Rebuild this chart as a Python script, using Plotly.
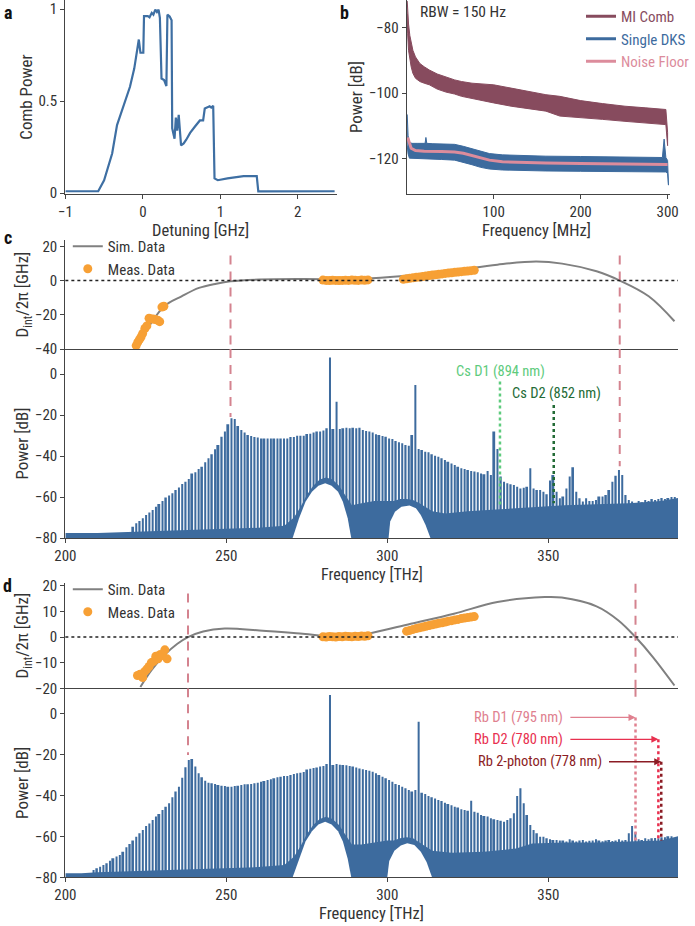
"""Comb spectra figure: MI/DKS, Dint and optical spectra (Cs / Rb)."""
import plotly.graph_objects as go

FONT = "Roboto Condensed, Roboto, sans-serif"
INK = "#333333"
BLUE = "#3d6b9e"
MAROON = "#874b5e"
PINK = "#dc8c9c"
ORANGE = "#f7a035"
GRAY = "#808080"
DASH_PINK = "#d4838f"

# ---------------- panel a : comb power vs detuning
det_ghz = [-1.0, -0.576, -0.50, -0.459, -0.396, -0.333, -0.25, -0.166, -0.111,
           -0.082, -0.052, -0.031, 0.006, 0.015, 0.065, 0.086, 0.115, 0.136,
           0.161, 0.182, 0.203, 0.22, 0.241, 0.274, 0.304, 0.317, 0.346, 0.371,
           0.379, 0.409, 0.426, 0.443, 0.463, 0.493, 0.527, 0.56, 0.61, 0.673,
           0.736, 0.778, 0.799, 0.862, 0.883, 0.908, 0.925, 0.967, 1.092, 1.30,
           1.47, 1.49, 1.72, 2.475]
comb_power = [0.01, 0.01, 0.07, 0.125, 0.215, 0.37, 0.47, 0.578, 0.677, 0.75,
              0.835, 0.763, 0.763, 0.962, 0.962, 0.956, 0.98, 0.97, 0.998,
              0.985, 0.998, 0.953, 0.623, 0.615, 0.582, 0.97, 0.96, 0.94, 0.352,
              0.296, 0.411, 0.34, 0.425, 0.259, 0.27, 0.29, 0.327, 0.362, 0.395,
              0.395, 0.46, 0.472, 0.465, 0.475, 0.08, 0.07, 0.08, 0.092, 0.092,
              0.009, 0.01, 0.01]

# ---------------- panel b : RF noise
mi_f = [0.5, 1, 2, 3.5, 5, 7, 10, 15, 20, 26, 35, 45, 55, 63, 75, 90, 100, 120,
        140, 160, 176, 200, 225, 251, 275, 298, 300]
mi_hi = [-72, -75, -79, -82.5, -85, -87, -89, -91, -92, -93, -94.2, -95.2, -96,
         -96.5, -97, -97.3, -97.5, -98.5, -99.5, -100.5, -101, -102.3, -103.2,
         -104, -104.5, -105, -112]
mi_lo = [-76, -82, -87, -90, -92, -94, -95.5, -96.5, -97, -97.5, -98.8, -99.7,
         -100.3, -101, -101.7, -102.5, -103, -104, -104.8, -105.5, -107, -107.4,
         -108, -108.6, -109.2, -109.6, -116]
dks_f = [0.5, 1.5, 3, 6, 12, 21, 22, 23, 30, 40, 55, 65, 75, 85, 95, 110, 130,
         160, 200, 250, 294, 296, 298, 300, 301]
dks_hi = [-106.5, -113, -115, -115.3, -115.3, -115.3, -113.5, -115.3, -115.4,
          -115.5, -115.6, -116.2, -117, -117.8, -118.4, -118.8, -119, -119.2,
          -119.3, -119.5, -119.6, -114, -119.6, -120.5, -127]
dks_lo = [-116, -118.5, -119.8, -120, -120, -120, -120, -120, -120.1, -120.2,
          -120.4, -121, -121.8, -122.6, -123.1, -123.4, -123.6, -123.7, -123.8,
          -124, -124, -124, -124, -124.5, -128]
nf_f = [1, 3, 5, 10, 20, 40, 55, 65, 75, 85, 95, 110, 130, 160, 200, 250, 300]
nf_db = [-113.5, -115.5, -116.8, -117.5, -117.7, -117.8, -117.9, -118.3, -119,
         -119.8, -120.4, -120.9, -121.1, -121.3, -121.4, -121.6, -121.7]

# ---------------- comb grid
pump_thz = 282.2
fsr_thz = 1.02

# ---------------- panel c
c_sim_f = [222.7, 226.0, 230.7, 236.1, 241.5, 246.9, 251.3, 260.3, 273.7, 287.1,
           295.2, 307.3, 320.7, 334.2, 346.2, 354.3, 365.0, 372.2, 381.2, 389.2]
c_sim_d = [-36.5, -26.7, -15.0, -9.2, -4.3, -1.8, -0.4, 0.6, 0.9, 0.8, 1.3, 3.1,
           6.0, 9.3, 11.1, 9.9, 5.4, 0.0, -9.2, -23.8]
c_meas_f = [222.0, 222.5, 223.0, 223.5, 224.0, 224.7, 225.3, 226.0, 226.6, 227.3,
            228.0, 228.7, 229.3, 230.0, 230.6,
            280, 281, 282, 283, 284, 285, 286, 287, 288, 289, 290, 291, 292, 293,
            294,
            305, 306, 307, 308, 309, 310, 311, 312, 313, 314, 315, 316, 317, 318,
            319, 320, 321, 322, 323, 324, 325, 326, 327]
c_meas_d = [-38, -36, -34.5, -33, -31, -28, -26.5, -22, -22.5, -22.5, -22.8,
            -23.2, -24, -15.5, -15,
            0.3, 0.1, 0.0, 0.2, 0.1, 0.0, 0.1, 0.2, 0.1, 0.3, 0.2, 0.1, 0.3, 0.2,
            0.4,
            0.7, 1.0, 1.3, 1.6, 1.9, 2.1, 2.4, 2.7, 2.9, 3.2, 3.4, 3.7, 3.9, 4.2,
            4.4, 4.6, 4.8, 5.0, 5.2, 5.4, 5.6, 5.8, 6.0]
c_k_first = -60
c_peaks = [
    -74.5, -72.8, -71.7, -70.4, -68.8, -67.5, -66.3, -64.7, -63.4, -61.9,
    -60.3, -59.3, -58.2, -56.6, -55.4, -53.7, -52.5, -51.2, -48.5, -47.9,
    -46.3, -45.2, -43.1, -41.1, -39.2, -36.7, -34.6, -30.6, -28.1, -24.5,
    -21.6, -21.9, -25.4, -27.3, -28.5, -29.8, -30.2, -30.7, -31.0, -31.4,
    -31.4, -31.4, -31.4, -31.4, -31.4, -31.4, -31.4, -31.4, -30.7, -30.7,
    -30.1, -30.1, -30.1, -29.3, -29.1, -28.5, -28.1, -28.1, -27.5, -26.5,
    8.0, -26.8, -13.5, -26.8, -26.5, -26.2, -26.5, -26.2, -26.5, -26.2,
    -27.3, -27.8, -28.1, -28.5, -29.4, -29.8, -30.2, -30.6, -31.4, -31.7,
    -32.7, -33.3, -33.8, -34.6, -35.0, -29.8, -5.4, -36.6, -37.1, -37.9,
    -38.2, -39.2, -39.9, -40.3, -41.1, -42.0, -42.8, -43.6, -44.4, -45.2,
    -46.0, -46.3, -46.8, -47.3, -47.6, -47.9, -48.5, -48.9, -47.3, -49.3,
    -28.1, -36.6, -50.0, -52.5, -53.3, -53.8, -54.1, -55.0, -55.8, -55.5,
    -55.0, -46.0, -55.8, -56.6, -56.6, -57.4, -58.7, -52.0, -49.3, -57.4,
    -60.6, -59.8, -55.8, -50.0, -45.5, -57.4, -60.6, -62.2, -60.6, -62.0,
    -62.0, -61.4, -59.8, -59.8, -59.0, -56.6, -52.5, -49.6, -46.8, -49.3,
    -59.0, -61.4, -62.2, -63.0, -62.0, -62.5, -61.5, -62.0, -61.0, -61.5,
    -61.0, -60.5, -61.0, -60.5, -60.0, -60.0]
c_floor_f = [200, 210, 220, 230, 240, 250, 260, 268, 271, 273, 275, 277, 279,
             281, 283, 285, 287, 289, 292, 296, 300, 302, 304, 306, 308, 310,
             312, 314, 318, 325, 335, 345, 355, 365, 375, 385, 390.3]
c_floor_db = [-77.5, -77.5, -77, -76.5, -76, -75.5, -75, -74, -70, -65, -59, -54.5,
              -51.5, -50.5, -51.5, -54.5, -59, -64, -63, -62, -62, -62, -61, -61,
              -61.5, -63, -65, -67, -68, -67, -66, -65, -64, -63.5, -63, -62,
              -60.5]
c_arch1_f = [270.6, 272.6, 274.6, 276.6, 278.6, 280.7, 282.7, 284.7, 286.2,
             287.7, 288.8]
c_arch1_db = [-80, -70.4, -62.3, -57.4, -54.5, -53.3, -54.5, -57.4, -62.3, -70.4,
              -80]
c_arch2_f = [300.4, 300.9, 302.4, 304.4, 306.9, 308.9, 310.4, 311.9, 313.4]
c_arch2_db = [-80, -72, -67.2, -64.7, -64.2, -65.5, -68.8, -73.6, -80]
c_zero_thz = [251.3, 372.2]
c_zero_top_d = 14.6
c_zero_peak_db = [-21.0, -45.0]
cs_names = ["Cs D1 (894 nm)", "Cs D2 (852 nm)"]
cs_colors = ["#5ecb7d", "#236b36"]
cs_thz = [335.0, 351.7]
cs_top_db = [-3.7, -15.1]
cs_bottom_db = [-65.0, -63.0]
cs_label_thz = [335.3, 352.6]
cs_label_db = [1.1, -9.4]

# ---------------- panel d
d_sim_f = [223.3, 226.7, 230.7, 234.8, 238.1, 242.8, 249.5, 260.3, 273.7, 285.8,
           293.9, 307.3, 320.7, 334.2, 348.9, 354.2, 365.0, 371.8, 377.1, 382.5,
           389.2]
d_sim_d = [-19.5, -13.0, -7.1, -2.6, 0.0, 2.2, 3.3, 2.6, 1.3, 0.0, 1.3, 5.2, 9.1,
           13.7, 15.6, 15.4, 12.0, 6.5, 0.0, -7.8, -18.9]
d_meas_f = [222.4, 223.2, 224.0, 224.6, 225.3, 226.0, 226.7, 227.4, 228.1, 228.8,
            229.5, 230.2, 230.9, 231.6,
            280, 281, 282, 283, 284, 285, 286, 287, 288, 289, 290, 291, 292, 293,
            294,
            306, 307, 308, 309, 310, 311, 312, 313, 314, 315, 316, 317, 318, 319,
            320, 321, 322, 323, 324, 325, 326, 327]
d_meas_d = [-15, -14.5, -15.8, -13.5, -12.5, -11.5, -10, -9.5, -7.5, -8.5, -6.8,
            -7.2, -5, -8.5,
            0.1, 0.0, 0.2, 0.1, 0.0, 0.2, 0.1, 0.3, 0.2, 0.1, 0.3, 0.2, 0.4, 0.3,
            0.5,
            2.3, 2.6, 3.0, 3.3, 3.6, 3.9, 4.2, 4.5, 4.8, 5.1, 5.4, 5.6, 5.9, 6.2,
            6.4, 6.7, 6.9, 7.2, 7.4, 7.6, 7.8, 8.0]
d_k_first = -72
d_peaks = [
    -76.4, -75.6, -74.8, -74.0, -73.2, -71.9, -70.7, -69.9, -69.1, -67.5,
    -65.4, -63.8, -62.1, -60.2, -58.5, -56.9, -55.0, -53.7, -52.0, -50.4,
    -49.1, -47.2, -45.6, -43.9, -41.0, -38.2, -35.8, -31.4, -26.3, -22.8,
    -22.3, -26.0, -29.3, -31.2, -32.9, -33.9, -34.1, -34.5, -35.0, -35.3,
    -35.5, -35.8, -35.8, -35.5, -35.3, -35.0, -34.6, -34.6, -34.5, -34.1,
    -33.9, -33.4, -33.0, -32.5, -32.2, -31.7, -31.2, -30.9, -30.6, -30.6,
    -30.1, -29.6, -29.3, -29.0, -28.6, -27.4, -27.0, -26.7, -26.4, -26.0,
    -25.7, -24.7, 8.9, -25.2, -24.7, -25.1, -25.2, -25.4, -25.7, -26.0,
    -26.4, -26.9, -27.3, -27.7, -28.0, -28.5, -29.3, -30.1, -30.9, -31.7,
    -32.5, -33.4, -34.5, -35.0, -35.8, -36.6, -37.4, -38.2, -37.4, -4.1,
    -38.7, -39.4, -40.3, -41.0, -41.5, -42.3, -42.8, -43.6, -44.3, -44.8,
    -45.6, -46.0, -46.8, -47.2, -47.5, -42.6, -48.0, -48.5, -49.6, -50.1,
    -50.4, -51.2, -51.7, -52.0, -52.4, -52.9, -52.0, -51.2, -48.8, -40.3,
    -36.6, -43.9, -49.6, -54.5, -56.9, -58.5, -60.2, -60.2, -61.0, -61.5,
    -61.8, -61.8, -62.0, -62.0, -62.5, -61.5, -62.0, -62.5, -62.0, -61.8,
    -62.5, -62.2, -62.0, -61.5, -62.0, -62.4, -62.0, -61.8, -62.3, -62.0,
    -61.5, -62.0, -61.8, -58.5, -55.0, -58.0, -61.5, -61.8, -61.0, -61.5,
    -61.0, -60.8, -61.0, -60.5, -60.5, -60.0, -60.0]
d_floor_f = [200, 205, 210, 220, 230, 240, 250, 260, 268, 271, 273, 275, 277,
             279, 281, 283, 285, 287, 289, 292, 296, 300, 302, 304, 306, 308, 310,
             312, 314, 320, 330, 340, 345, 355, 365, 375, 385, 390.3]
d_floor_db = [-78, -78, -77.5, -77, -76.5, -76, -75.5, -75, -74, -70, -65, -59,
              -54.5, -51.5, -50.5, -51.5, -54.5, -59, -64, -64, -63, -62, -62,
              -61, -60.5, -61, -63, -65, -67, -68, -67.5, -66, -63.5, -63, -63,
              -62.5, -62, -60]
d_arch1_f = [270.6, 272.6, 274.6, 276.6, 278.6, 280.7, 282.7, 284.7, 286.2,
             287.7, 288.8]
d_arch1_db = [-80, -71, -62.5, -57.5, -54.3, -52.9, -54.3, -57.5, -62.5, -71, -80]
d_arch2_f = [300.0, 300.6, 302.2, 304.2, 306.2, 308.4, 310.4, 312.2, 313.9]
d_arch2_db = [-80, -72, -67, -64.5, -63.4, -64.2, -67.5, -72.5, -80]
d_zero_thz = [238.1, 377.1]
d_zero_top_d = [17.0, 20.8]
d_zero_peak_db = [-20.3, 8.1]
rb_names = ["Rb D1 (795 nm)", "Rb D2 (780 nm)", "Rb 2-photon (778 nm)"]
rb_colors = ["#e0808f", "#e8304f", "#8b1c24"]
rb_thz = [377.1, 384.2, 385.1]
rb_db = [-2.0, -12.7, -23.6]
rb_bottom_db = [-62.0, -62.0, -62.0]
rb_text_end_thz = [355.1, 355.1, 367.3]
rb_tail_thz = [356.4, 356.4, 368.4]


def comb_freqs(k_first, peaks):
    return [pump_thz + fsr_thz * k for k in range(k_first, k_first + len(peaks))]


def segments(xs, y0s, y1s):
    x, y = [], []
    for xx, a, b in zip(xs, y0s, y1s):
        x += [xx, xx, None]
        y += [a, b, None]
    return x, y


fig = go.Figure()

# panel a
fig.add_trace(go.Scatter(x=det_ghz, y=comb_power, mode="lines",
                         line=dict(color="#3e6fa3", width=2.2),
                         showlegend=False, xaxis="x", yaxis="y"))

# panel b
fig.add_trace(go.Scatter(x=mi_f + mi_f[::-1], y=mi_hi + mi_lo[::-1],
                         fill="toself", fillcolor=MAROON, mode="lines",
                         line=dict(color=MAROON, width=1), showlegend=False,
                         xaxis="x2", yaxis="y2"))
fig.add_trace(go.Scatter(x=dks_f + dks_f[::-1], y=dks_hi + dks_lo[::-1],
                         fill="toself", fillcolor=BLUE, mode="lines",
                         line=dict(color=BLUE, width=1), showlegend=False,
                         xaxis="x2", yaxis="y2"))
fig.add_trace(go.Scatter(x=nf_f, y=nf_db, mode="lines",
                         line=dict(color=PINK, width=3), showlegend=False,
                         xaxis="x2", yaxis="y2"))
for name, col in [("MI Comb", MAROON), ("Single DKS", BLUE), ("Noise Floor", PINK)]:
    fig.add_trace(go.Scatter(x=[None], y=[None], mode="lines",
                             line=dict(color=col, width=3),
                             name=f"<span style='color:{col}'>{name}</span>",
                             legend="legend", xaxis="x2", yaxis="y2"))


def spectrum_panel(xa_top, ya_top, xa, ya, sim_f, sim_d, meas_f, meas_d,
                   k_first, peaks, floor_f, floor_db, arches, legend_id):
    # D_int panel
    fig.add_trace(go.Scatter(x=sim_f, y=sim_d, mode="lines", name="Sim. Data",
                             line=dict(color=GRAY, width=2, shape="spline"),
                             legend=legend_id, xaxis=xa_top, yaxis=ya_top))
    fig.add_trace(go.Scatter(x=meas_f, y=meas_d, mode="markers", name="Meas. Data",
                             marker=dict(color=ORANGE, size=9, line=dict(width=0)),
                             legend=legend_id, xaxis=xa_top, yaxis=ya_top))
    # optical spectrum: comb lines, noise floor, empty arches
    fig.add_trace(go.Bar(x=comb_freqs(k_first, peaks), y=[p + 80 for p in peaks],
                         base=-80, width=0.62, marker=dict(color=BLUE, line=dict(width=0)),
                         showlegend=False, xaxis=xa, yaxis=ya))
    fig.add_trace(go.Scatter(x=[floor_f[0]] + floor_f + [floor_f[-1]],
                             y=[-80] + floor_db + [-80], fill="toself",
                             fillcolor=BLUE, mode="lines", line=dict(width=0, color=BLUE),
                             showlegend=False, xaxis=xa, yaxis=ya))
    for af, adb in arches:
        fig.add_trace(go.Scatter(x=af, y=adb, fill="toself", fillcolor="white",
                                 mode="lines", line=dict(width=0, color="white"),
                                 showlegend=False, xaxis=xa, yaxis=ya))


spectrum_panel("x3", "y3", "x4", "y4", c_sim_f, c_sim_d, c_meas_f, c_meas_d,
               c_k_first, c_peaks, c_floor_f, c_floor_db,
               [(c_arch1_f, c_arch1_db), (c_arch2_f, c_arch2_db)], "legend2")
spectrum_panel("x5", "y5", "x6", "y6", d_sim_f, d_sim_d, d_meas_f, d_meas_d,
               d_k_first, d_peaks, d_floor_f, d_floor_db,
               [(d_arch1_f, d_arch1_db), (d_arch2_f, d_arch2_db)], "legend3")

# dashed zero-crossing markers
dash = dict(color=DASH_PINK, width=2, dash="9px,7px")
x, y = segments(c_zero_thz, [c_zero_top_d] * 2, [-40, -40])
fig.add_trace(go.Scatter(x=x, y=y, mode="lines", line=dash, showlegend=False,
                         xaxis="x3", yaxis="y3"))
x, y = segments(c_zero_thz, [12.2, 12.2], c_zero_peak_db)
fig.add_trace(go.Scatter(x=x, y=y, mode="lines", line=dash, showlegend=False,
                         xaxis="x4", yaxis="y4"))
x, y = segments(d_zero_thz, d_zero_top_d, [-20, -20])
fig.add_trace(go.Scatter(x=x, y=y, mode="lines", line=dash, showlegend=False,
                         xaxis="x5", yaxis="y5"))
x, y = segments(d_zero_thz, [12.2, 12.2], d_zero_peak_db)
fig.add_trace(go.Scatter(x=x, y=y, mode="lines", line=dash, showlegend=False,
                         xaxis="x6", yaxis="y6"))

# Cs lines
for i in range(2):
    fig.add_trace(go.Scatter(x=[cs_thz[i]] * 2, y=[cs_top_db[i], cs_bottom_db[i]],
                             mode="lines", line=dict(color=cs_colors[i], width=2.5, dash="dot"),
                             showlegend=False, xaxis="x4", yaxis="y4"))
    fig.add_annotation(x=cs_label_thz[i], y=cs_label_db[i], xref="x4", yref="y4",
                       text=cs_names[i], showarrow=False,
                       font=dict(color=cs_colors[i], size=14.5))

# Rb lines
for i in range(3):
    fig.add_trace(go.Scatter(x=[rb_thz[i]] * 2, y=[rb_db[i], rb_bottom_db[i]],
                             mode="lines", line=dict(color=rb_colors[i], width=2.5, dash="dot"),
                             showlegend=False, xaxis="x6", yaxis="y6"))
    fig.add_annotation(x=rb_text_end_thz[i], y=rb_db[i], xref="x6", yref="y6",
                       text=rb_names[i], showarrow=False, xanchor="right",
                       font=dict(color=rb_colors[i], size=14.5))
    fig.add_annotation(x=rb_thz[i], y=rb_db[i], ax=rb_tail_thz[i], ay=rb_db[i],
                       xref="x6", yref="y6", axref="x6", ayref="y6", text="",
                       showarrow=True, arrowhead=2, arrowsize=1, arrowwidth=1.4,
                       arrowcolor=rb_colors[i])

# zero lines in Dint panels
for xr, yr in [("x3", "y3"), ("x5", "y5")]:
    fig.add_shape(type="line", xref=f"{xr} domain", yref=yr, x0=0, x1=1, y0=0, y1=0,
                  line=dict(color="#222222", width=1.5, dash="dot"))

axis_common = dict(showgrid=False, zeroline=False, showline=True, linecolor="#444444",
                   linewidth=1.3, ticks="outside", ticklen=4, tickwidth=1.2,
                   tickcolor="#444444", tickfont=dict(size=15, color=INK),
                   title_font=dict(size=17, color=INK))

fig.update_layout(
    width=695, height=926, template="none",
    paper_bgcolor="white", plot_bgcolor="white",
    margin=dict(l=0, r=0, t=0, b=0),
    font=dict(family=FONT, color=INK, size=15),
    xaxis=dict(domain=[0.0964, 0.4964], anchor="y", range=[-1, 2.5],
               tickvals=[-1, 0, 1, 2], **axis_common),
    yaxis=dict(domain=[0.7905, 1.0], anchor="x", range=[-0.005, 1.05],
               tickvals=[0, 0.5, 1], title=dict(text="Comb Power", standoff=1),
               **axis_common),
    xaxis2=dict(domain=[0.6, 0.9885], anchor="y2", range=[0, 303],
                tickvals=[100, 200, 300], **axis_common),
    yaxis2=dict(domain=[0.7905, 1.0], anchor="x2", range=[-130.7, -71.7],
                tickvals=[-80, -100, -120], title=dict(text="Power [dB]", standoff=1),
                **axis_common),
    xaxis3=dict(domain=[0.0964, 1.0], anchor="y3", range=[200, 390.3],
                showticklabels=False, **{**axis_common, "ticks": ""}),
    yaxis3=dict(domain=[0.6231, 0.7408], anchor="x3", range=[-40, 23.7],
                tickvals=[20, 0, -20, -40],
                title=dict(text="D<sub>int</sub>/2π [GHz]", standoff=1), **axis_common),
    xaxis4=dict(domain=[0.0964, 1.0], anchor="y4", range=[200, 390.3],
                tickvals=[200, 250, 300, 350], **axis_common),
    yaxis4=dict(domain=[0.4190, 0.6231], anchor="x4", range=[-80, 12.2],
                tickvals=[0, -20, -40, -60, -80],
                title=dict(text="Power [dB]", standoff=1), **axis_common),
    xaxis5=dict(domain=[0.0964, 1.0], anchor="y5", range=[200, 390.3],
                showticklabels=False, **{**axis_common, "ticks": ""}),
    yaxis5=dict(domain=[0.2567, 0.3704], anchor="x5", range=[-20, 21.1],
                tickvals=[20, 10, 0, -10, -20],
                title=dict(text="D<sub>int</sub>/2π [GHz]", standoff=1), **axis_common),
    xaxis6=dict(domain=[0.0964, 1.0], anchor="y6", range=[200, 390.3],
                tickvals=[200, 250, 300, 350], **axis_common),
    yaxis6=dict(domain=[0.0526, 0.2567], anchor="x6", range=[-80, 12.2],
                tickvals=[0, -20, -40, -60, -80],
                title=dict(text="Power [dB]", standoff=1), **axis_common),
    legend=dict(x=0.857, y=1.0, xanchor="left", yanchor="top", bgcolor="rgba(0,0,0,0)",
                font=dict(size=15), itemwidth=30, tracegroupgap=0),
    legend2=dict(x=0.10, y=0.7516, xanchor="left", yanchor="top",
                 bgcolor="rgba(0,0,0,0)", font=dict(size=15, color=INK), itemwidth=30),
    legend3=dict(x=0.10, y=0.3812, xanchor="left", yanchor="top",
                 bgcolor="rgba(0,0,0,0)", font=dict(size=15, color=INK), itemwidth=30),
)

# x-axis titles sit tight under the tick labels, as in the original
for text, px, py, fs in [("Detuning [GHz]", 0.2964, 0.7516, 16.5),
                         ("Frequency [MHz]", 0.792, 0.7516, 16.5),
                         ("Frequency [THz]", 0.548, 0.3801, 16),
                         ("Frequency [THz]", 0.548, 0.0130, 16.5)]:
    fig.add_annotation(x=px, y=py, xref="paper", yref="paper", text=text,
                       showarrow=False, xanchor="center", yanchor="middle",
                       font=dict(size=fs, color=INK))

fig.add_annotation(x=0.616, y=0.987, xref="paper", yref="paper", text="RBW = 150 Hz",
                   showarrow=False, xanchor="left", yanchor="middle",
                   font=dict(size=15.5, color=INK))
for lab, px, py in [("a", 0.0115, 0.986), ("b", 0.508, 0.987),
                    ("c", 0.0115, 0.743), ("d", 0.0115, 0.368)]:
    fig.add_annotation(x=px, y=py, xref="paper", yref="paper", text=f"<b>{lab}</b>",
                       showarrow=False, xanchor="center", yanchor="middle",
                       font=dict(size=18, color="#111111"))

fig.write_html("out.html", config={"displayModeBar": False},
               post_script="document.body.style.margin='0px';")
